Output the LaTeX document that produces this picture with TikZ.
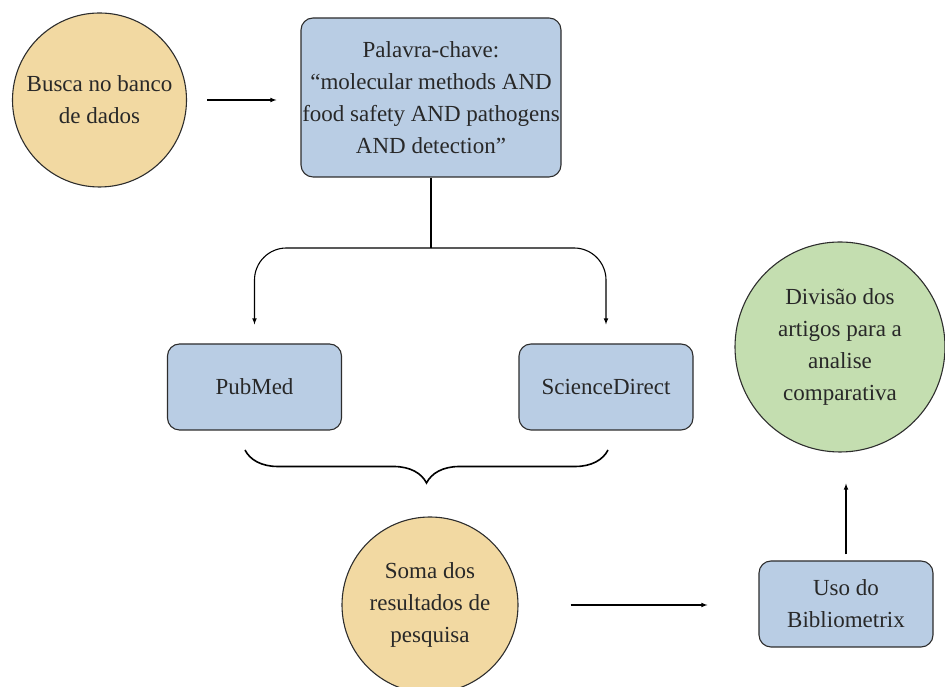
\documentclass[tikz,border=0pt]{standalone}
\usepackage{fontspec}
\setmainfont{LiberationSerif}[Extension=.ttf,UprightFont=*-Regular,BoldFont=*-Bold,ItalicFont=*-Italic,BoldItalicFont=*-BoldItalic]
\usepackage{tikz}
\usetikzlibrary{shapes,arrows,decorations.pathreplacing}

\definecolor{tan}{RGB}{242,217,162}
\definecolor{paleblue}{RGB}{185,205,228}
\definecolor{palegreen}{RGB}{196,222,176}
\definecolor{edgegray}{RGB}{45,45,45}
\definecolor{ink}{RGB}{40,40,40}

\begin{document}
\begin{tikzpicture}[x=1pt,y=1pt,line width=1.1pt,>=latex,
  font=\fontsize{23}{32}\selectfont,
  oval/.style={circle,draw=edgegray,fill=tan,text=ink,align=center,inner sep=0pt},
  bluebox/.style={rectangle,rounded corners=12pt,draw=edgegray,fill=paleblue,text=ink,align=center,inner sep=0pt,minimum width=174,minimum height=86},
  greencirc/.style={circle,draw=edgegray,fill=palegreen,text=ink,align=center,inner sep=0pt,minimum size=210}]
\useasboundingbox (0,0) rectangle (945,687);
\node[oval,minimum size=174] (busca) at (99.5,587) {Busca no banco\\de dados};
\node[bluebox,minimum width=260,minimum height=159] (chave) at (431,589.5) {Palavra-chave:\\``molecular methods AND\\food safety AND pathogens\\AND detection''};
\node[bluebox] (pubmed) at (254.5,300) {PubMed};
\node[bluebox] (science) at (606,300) {ScienceDirect};
\node[oval,minimum size=176] (soma) at (430,82) {Soma dos\\resultados de\\pesquisa};
\node[bluebox] (uso) at (846,83) {Uso do\\Bibliometrix};
\node[greencirc] (divisao) at (840,340) {Divisão dos\\artigos para a\\analise\\comparativa};
\coordinate (split) at (431,439);
\coordinate (bl) at (245,237);
\coordinate (br) at (608,237);
\draw[->,shorten <=20pt,shorten >=24pt] (busca.east) -- (busca.east -| chave.west);
\draw (chave.south) -- (split);
\draw[->,rounded corners=32pt,shorten >=19pt] (split) -| (pubmed.north);
\draw[->,rounded corners=32pt,shorten >=19pt] (split) -| (science.north);
\draw[line width=1.6pt,decorate,decoration={brace,amplitude=33pt}] (br) -- (bl);
\draw[->,shorten <=52pt,shorten >=51pt] (soma.east) -- (soma.east -| uso.west);
\draw[->,shorten <=6pt,shorten >=31pt] (uso.north) -- (uso.north |- divisao.south);
\end{tikzpicture}
\end{document}
